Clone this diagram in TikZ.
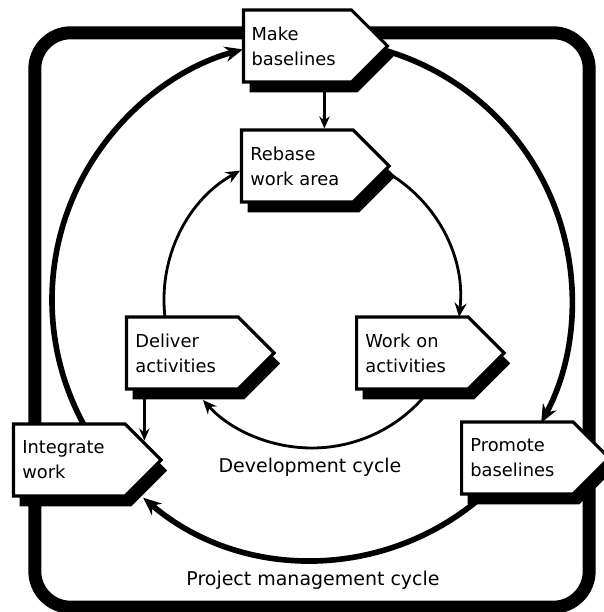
\documentclass[tikz,border=0pt]{standalone}
\usepackage{fontspec}
\setmainfont{DejaVu Sans}
\usepackage{tikz}
\usetikzlibrary{arrows.meta,shapes.symbols,shadows}
\newcommand{\boxfont}{\fontsize{12.7}{17.8}\selectfont}
\newcommand{\capfont}{\fontsize{13.5}{16}\selectfont}
\tikzset{
  flag/.style={signal,signal to=east,draw=black,line width=2.2pt,fill=white,minimum height=1.8cm,text width=2.35cm,align=left,inner xsep=0.22cm,anchor=west,font=\boxfont,drop shadow={opacity=1,fill=black,shadow xshift=0.15cm,shadow yshift=-0.26cm}},
  pmc/.style={line width=4pt,-{Stealth[length=4.5mm,width=3.8mm]}},
  dvc/.style={line width=2pt,-{Stealth[length=3.5mm,width=3mm]}},
  ar/.style={line width=2pt,-{Stealth[length=3mm,width=2.6mm]}},
  rim/.style={line width=9.2pt,rounded corners=0.9cm}
}

\begin{document}
\begin{tikzpicture}
\def\R{6.5}
\def\r{3.7}
\useasboundingbox (-7.8,-7.8) rectangle (7.3,7.5);
\draw[rim] (-6.93,-7.68) rectangle (6.93,6.68);
\coordinate (p1) at (212:\R);
\coordinate (p2) at (80:\R);
\coordinate (p3) at (-45:\R);
\coordinate (d1) at (190:\r);
\coordinate (d2) at (70:\r);
\coordinate (d3) at (-30:\r);
\draw[pmc] (p1) arc (212:105.4:\R);
\draw[pmc] (p2) arc (80:-28.2:\R);
\draw[pmc] (p3) arc (-45:-130.5:\R);
\draw[dvc] (d1) arc (190:119.1:\r);
\draw[dvc] (d2) arc (70:-6.6:\r);
\draw[dvc] (d3) arc (-30:-137.5:\r);
\node[flag,text width=2.3cm,inner xsep=0.2cm] (mk) at (-1.75,6.35) {Make\\baselines};
\node[flag] (rb) at (-1.8,3.35) {Rebase\\work area};
\node[flag] (dl) at (-4.675,-1.325) {Deliver\\activities};
\node[flag] (wk) at (1.075,-1.325) {Work on\\activities};
\node[flag] (it) at (-7.5,-4.0) {Integrate\\work};
\node[flag] (pr) at (3.7,-3.95) {Promote\\baselines};
\draw[ar] ([xshift=0.675cm]mk.south) -- ([xshift=0.675cm]rb.north);
\draw[ar] ([xshift=-0.95cm]dl.south) -- ++(0,-1.25);
\node[font=\capfont] (dc) at (-0.05,-4.175) {Development cycle};
\node[font=\capfont] (pc) at (0.025,-7.0) {Project management cycle};
\end{tikzpicture}
\end{document}
